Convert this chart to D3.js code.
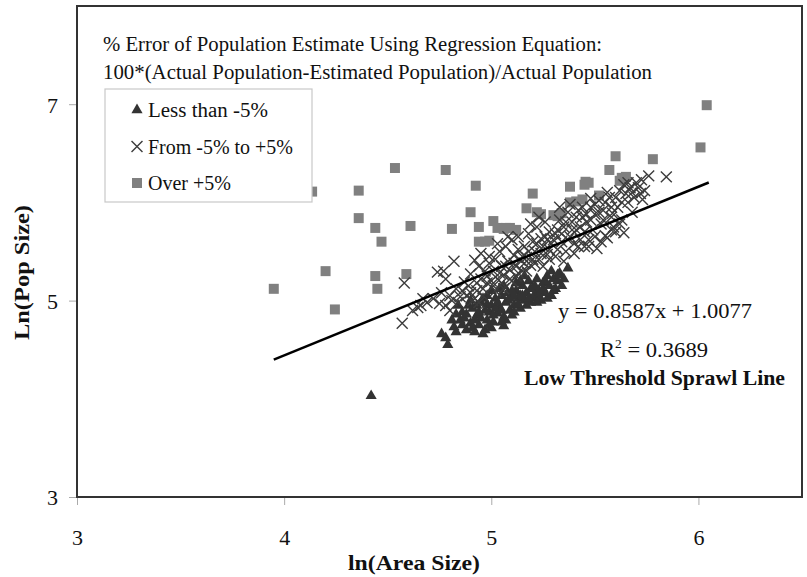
<!DOCTYPE html>
<html>
<head>
<meta charset="utf-8">
<script src="https://cdn.jsdelivr.net/npm/d3@7"></script>
<style>
  body { margin: 0; background: #fff; }
  text { font-family: "Liberation Serif", "Times New Roman", serif; fill: #111; }
</style>
</head>
<body>
<div id="chart"></div>
<script>
// ln(Area Size), ln(Pop Size) pairs
var under = [  // Less than -5%
  [4.42,4.03],[4.78,4.62],[4.79,4.55],[4.76,4.66],[4.82,4.73],[4.85,4.80],[4.88,4.70],[4.90,4.77],
  [4.92,4.68],[4.86,4.88],[4.89,4.95],[4.93,4.85],[4.91,4.92],[4.84,4.95],[4.94,4.75],[4.87,4.82],
  [4.95,4.98],[4.83,4.86],[4.90,5.00],[4.97,4.70],[4.98,4.80],[4.99,4.88],[5.00,4.95],[5.01,4.78],
  [5.02,5.02],[5.03,4.87],[5.04,4.93],[5.05,5.05],[5.06,4.83],[5.07,4.98],[5.08,5.08],[5.09,4.90],
  [5.10,4.85],[4.96,5.02],[5.00,5.10],[5.04,5.12],[5.08,5.00],[5.02,4.92],[4.98,4.96],[4.96,4.66],
  [5.11,4.95],[5.12,5.10],[5.13,5.02],[5.14,4.92],[5.15,5.15],[5.16,5.00],[5.17,5.08],[5.18,5.20],
  [5.19,4.98],[5.20,5.12],[5.21,5.05],[5.22,5.22],[5.23,5.10],[5.24,5.00],[5.25,5.18],[5.12,5.18],
  [5.16,5.25],[5.14,5.05],[5.20,5.03],[5.11,4.88],[5.26,5.08],[5.27,5.25],[5.28,5.15],[5.29,5.05],
  [5.30,5.22],[5.31,5.12],[5.32,5.20],[5.33,5.28],[5.37,5.33],[5.34,5.15],[5.29,5.30],[5.06,4.74],
  [4.81,4.80],[4.83,4.68],[4.86,4.75],[4.88,4.86],[4.91,4.72],[4.93,4.95],[4.95,4.82],[4.97,4.90],
  [4.99,4.75],[5.01,4.85],[5.03,4.98],[5.05,4.90],[5.07,4.80],[5.09,5.02],[5.11,5.05],[5.13,4.96],
  [5.15,5.05],[5.17,4.95],[5.19,5.12],[5.21,5.15],[5.23,5.05],[5.25,5.12],[5.27,5.02],[5.30,5.10],
  [5.32,5.26],[5.35,5.22],[5.18,5.02],[5.22,4.98],[5.26,5.20],[5.00,4.72],[5.05,4.78],[4.98,5.05],
  [5.06,5.15],[5.10,5.10],[5.14,5.20],[4.94,4.88],[4.92,4.80]
];
var within = [  // From -5% to +5%
  [4.57,4.77],[4.58,5.18],[4.645,4.93],[4.67,5.02],[4.66,4.95],[4.69,4.98],[4.62,4.90],
  [4.74,5.29],[4.77,5.30],[4.78,5.22],[4.75,4.97],[4.78,4.95],[4.80,4.90],[4.82,5.40],[4.80,5.05],
  [4.83,5.12],[4.72,5.02],[4.76,5.08],[4.84,4.98],[4.81,5.00],[4.85,5.04],
  [4.92,5.41],[4.94,5.35],[4.87,5.19],[4.89,5.15],[4.90,5.27],[4.93,5.10],[4.95,5.22],[4.97,5.30],
  [4.98,5.18],[4.86,5.10],[4.88,5.05],[4.91,5.00],[4.96,5.05],[4.99,5.38],[4.99,5.45],[4.95,5.48],
  [4.92,5.02],[4.94,4.98],
  [5.01,5.30],[5.02,5.42],[5.03,5.22],[5.04,5.50],[5.05,5.35],[5.06,5.26],[5.07,5.55],[5.08,5.40],
  [5.09,5.31],[5.10,5.62],[5.11,5.46],[5.12,5.35],[5.13,5.52],[5.14,5.41],[5.03,5.58],[5.06,5.12],
  [5.10,5.20],[5.13,5.65],[5.15,5.30],[5.01,5.15],[5.08,5.65],[5.12,5.25],
  [5.16,5.55],[5.17,5.44],[5.18,5.68],[5.19,5.36],[5.20,5.60],[5.21,5.50],[5.22,5.75],[5.23,5.42],
  [5.24,5.63],[5.25,5.55],[5.26,5.80],[5.27,5.47],[5.28,5.70],[5.29,5.58],[5.17,5.30],[5.21,5.38],
  [5.25,5.35],[5.28,5.42],[5.19,5.78],[5.23,5.85],[5.27,5.62],
  [5.31,5.68],[5.32,5.52],[5.33,5.82],[5.34,5.60],[5.35,5.75],[5.36,5.50],[5.37,5.90],[5.38,5.65],
  [5.39,5.80],[5.40,5.58],[5.41,5.72],[5.42,5.92],[5.43,5.62],[5.44,5.85],[5.45,5.70],[5.31,5.45],
  [5.35,5.40],[5.40,5.48],[5.42,5.55],[5.33,5.95],[5.38,5.98],
  [5.46,5.80],[5.47,5.62],[5.48,5.95],[5.49,5.72],[5.50,5.88],[5.51,5.53],[5.52,6.02],[5.53,5.78],
  [5.54,5.92],[5.55,5.66],[5.56,5.64],[5.57,6.05],[5.58,5.85],[5.585,5.89],[5.59,5.75],[5.47,5.55],
  [5.53,5.60],[5.48,6.04],[5.56,6.10],
  [5.61,5.95],[5.62,6.12],[5.63,5.82],[5.64,5.69],[5.65,6.09],[5.66,6.00],[5.67,6.15],[5.68,5.90],
  [5.70,6.20],[5.72,6.09],[5.725,6.23],[5.76,6.27],[5.845,6.26],[5.69,6.05],[5.74,6.12],[5.64,6.18],
  [5.62,5.78],
  [4.90,5.08],[4.93,5.18],[4.96,5.12],[4.98,5.25],[5.00,5.20],[5.02,5.10],[5.04,5.28],[5.05,5.18],
  [5.07,5.35],[5.09,5.22],[5.11,5.38],[5.13,5.28],[5.15,5.45],[5.16,5.38],[5.18,5.50],[5.20,5.42],
  [5.22,5.58],[5.24,5.48],[5.26,5.65],[5.28,5.52],[5.30,5.62],[5.32,5.72],[5.34,5.68],[5.36,5.80],
  [5.37,5.62],[5.39,5.72],[5.41,5.85],[5.43,5.75],[5.44,5.95],[5.46,5.88],[5.48,5.82],[5.50,5.98],
  [5.52,5.90],[5.54,5.82],[5.55,6.00],[5.58,5.95],[5.60,6.05],[5.60,5.70],[5.63,6.00],[5.66,6.20],
  [5.68,6.10],[5.71,6.15],[5.73,6.03],[5.50,5.65],[5.45,5.55],[5.58,5.72]
];
var over = [  // Over +5%
  [3.95,5.12],[4.135,6.11],[4.20,5.30],[4.245,4.91],[4.36,6.12],[4.36,5.84],[4.44,5.74],[4.47,5.60],
  [4.44,5.25],[4.45,5.12],[4.535,6.35],[4.61,5.76],[4.59,5.27],[4.78,6.33],[4.81,5.73],[4.90,5.90],
  [4.925,6.17],[4.94,5.60],[4.97,5.60],[4.99,5.61],[4.94,5.75],[5.01,5.81],[5.03,5.74],[5.06,5.73],
  [5.09,5.74],[5.12,5.72],[5.07,5.74],[5.17,5.94],[5.20,6.09],[5.22,5.90],[5.24,5.88],[5.30,5.87],
  [5.34,5.89],[5.32,5.86],[5.38,6.16],[5.38,6.00],[5.41,6.01],[5.44,6.03],[5.45,6.18],[5.455,6.21],
  [5.47,6.20],[5.52,6.07],[5.57,6.33],[5.60,6.47],[5.62,6.22],[5.63,6.25],[5.65,6.26],[5.78,6.44],
  [6.01,6.56],[6.04,6.99]
];
var xTicks = [3, 4, 5, 6];
var yTicks = [3, 5, 7];
var slope = 0.8587, intercept = 1.0077, rSquared = 0.3689;
var fitRange = [3.95, 6.05];
var titleLines = ["% Error of Population Estimate Using Regression Equation:",
                  "100*(Actual Population-Estimated Population)/Actual Population"];
var legendLabels = ["Less than -5%", "From -5% to +5%", "Over +5%"];

var width = 807, height = 577;
var svg = d3.select("#chart").append("svg")
  .attr("width", width).attr("height", height);

var x = d3.scaleLinear().domain([3, 6.5]).range([77, 802]);
var y = d3.scaleLinear().domain([3, 8]).range([497, 6]);

// squeeze/stretch a text so it spans the same width as in the picture
function fit(sel, w) {
  return sel.attr("textLength", w).attr("lengthAdjust", "spacingAndGlyphs");
}

// axes (ticks outside, gray)
var xAxis = svg.append("g").attr("transform", "translate(0," + y(3) + ")")
  .call(d3.axisBottom(x).tickValues(xTicks).tickSize(8).tickFormat(d3.format("d")));
xAxis.selectAll("text").attr("y", 48).attr("dy", 0)
  .style("font-size", "22px").style("font-family", "Liberation Serif");
var yAxis = svg.append("g").attr("transform", "translate(" + x(3) + ",0)")
  .call(d3.axisLeft(y).tickValues(yTicks).tickSize(8).tickFormat(d3.format("d")));
yAxis.selectAll("text").attr("x", -19).attr("dy", "0.36em")
  .style("font-size", "22px").style("font-family", "Liberation Serif");
svg.selectAll(".domain").remove();
svg.selectAll(".tick line").attr("stroke", "#aaa");

// markers
var sq = d3.symbol(d3.symbolSquare, 100);
var tri = d3.symbol(d3.symbolTriangle, 54);
var cross = d3.symbol(d3.symbolTimes, 80);

svg.append("g").selectAll("path").data(over).join("path")
  .attr("d", sq).attr("fill", "#808080")
  .attr("transform", d => "translate(" + x(d[0]) + "," + y(d[1]) + ")");
svg.append("g").selectAll("path").data(under).join("path")
  .attr("d", tri).attr("fill", "#333")
  .attr("transform", d => "translate(" + x(d[0]) + "," + y(d[1]) + ")");
svg.append("g").selectAll("path").data(within).join("path")
  .attr("d", cross).attr("fill", "none").attr("stroke", "#3c3c3c").attr("stroke-width", 1.4)
  .attr("transform", d => "translate(" + x(d[0]) + "," + y(d[1]) + ")");

// regression line
svg.append("line")
  .attr("x1", x(fitRange[0])).attr("y1", y(slope * fitRange[0] + intercept))
  .attr("x2", x(fitRange[1])).attr("y2", y(slope * fitRange[1] + intercept))
  .attr("stroke", "#000").attr("stroke-width", 2.5);

// plot frame
svg.append("rect")
  .attr("x", x(3)).attr("y", y(8))
  .attr("width", x(6.5) - x(3)).attr("height", y(3) - y(8))
  .attr("fill", "none").attr("stroke", "#333").attr("stroke-width", 2);

// title lines
var titleWidths = [499, 549];
svg.append("g").selectAll("text").data(titleLines).join("text")
  .attr("x", 103).attr("y", (d, i) => 51 + i * 28)
  .style("font-size", "20px")
  .text(d => d)
  .each(function(d, i) { fit(d3.select(this), titleWidths[i]); });

// legend
var lg = svg.append("g").attr("transform", "translate(105,89)");
lg.append("rect").attr("width", 207).attr("height", 113)
  .attr("fill", "#fff").attr("stroke", "#c8c8c8").attr("stroke-width", 1.2);
var legendMarks = [
  {path: tri(), fill: "#333", stroke: "none"},
  {path: cross(), fill: "none", stroke: "#3c3c3c"},
  {path: sq(), fill: "#808080", stroke: "none"}
];
var legendWidths = [120, 145, 83];
var row = lg.selectAll(".row").data(legendLabels).join("g")
  .attr("class", "row")
  .attr("transform", (d, i) => "translate(0," + (21 + i * 36.5) + ")");
row.append("path")
  .attr("d", (d, i) => legendMarks[i].path)
  .attr("fill", (d, i) => legendMarks[i].fill)
  .attr("stroke", (d, i) => legendMarks[i].stroke).attr("stroke-width", 1.4)
  .attr("transform", "translate(32,0)");
row.append("text").attr("x", 43).attr("dy", "0.35em")
  .style("font-size", "20px").text(d => d)
  .each(function(d, i) { fit(d3.select(this), legendWidths[i]); });

// regression annotation
var ann = svg.append("g");
fit(ann.append("text").attr("x", 558).attr("y", 318)
  .style("font-size", "22px")
  .text("y = " + slope + "x + " + intercept.toFixed(4)), 194);
var r2 = ann.append("text").attr("x", 600).attr("y", 357)
  .style("font-size", "22px");
r2.append("tspan").text("R");
r2.append("tspan").attr("dy", -9).style("font-size", "13px").text("2");
r2.append("tspan").attr("dy", 9).text(" = " + rSquared);
fit(r2, 108);
fit(ann.append("text").attr("x", 524).attr("y", 385)
  .style("font-size", "20px").style("font-weight", "bold")
  .text("Low Threshold Sprawl Line"), 261);

// axis titles
fit(svg.append("text").attr("x", 348).attr("y", 570)
  .style("font-size", "21px").style("font-weight", "bold")
  .text("ln(Area Size)"), 132);
fit(svg.append("text").attr("transform", "translate(29,340) rotate(-90)")
  .style("font-size", "21px").style("font-weight", "bold")
  .text("Ln(Pop Size)"), 135);
</script>
</body>
</html>
